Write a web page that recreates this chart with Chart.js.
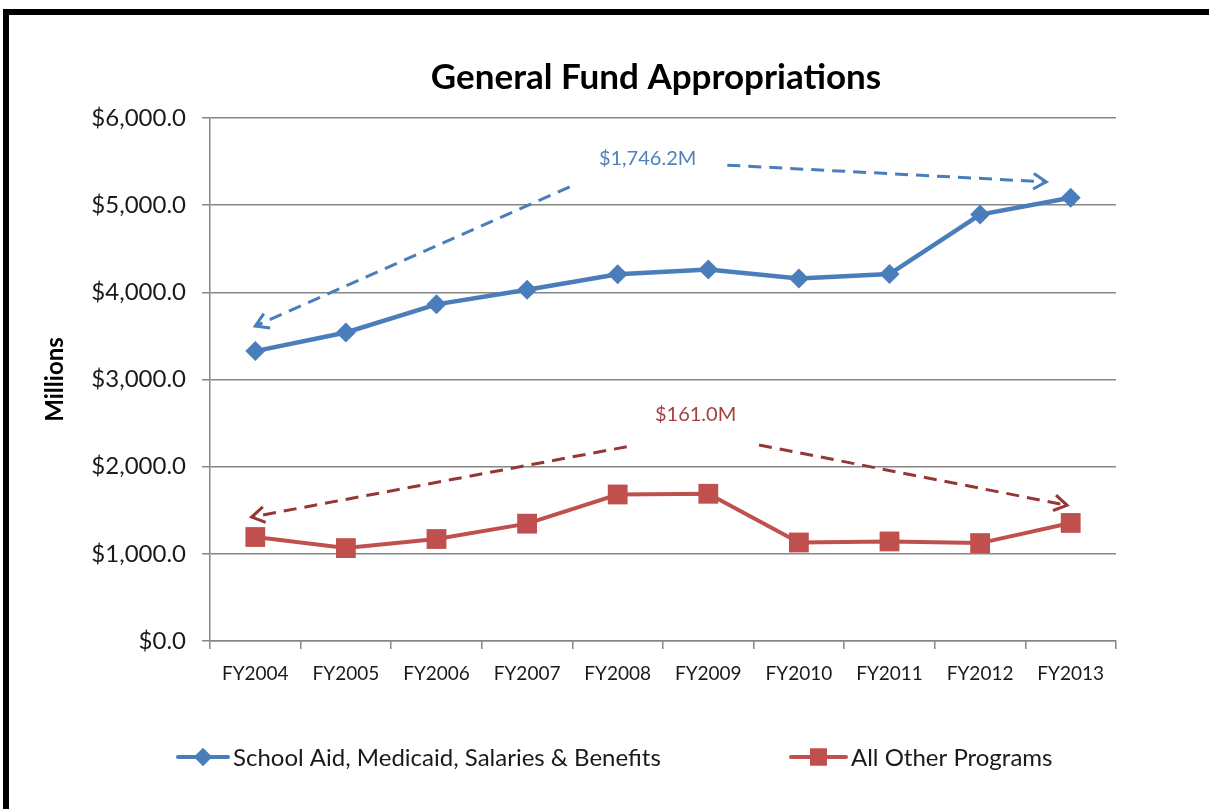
<!DOCTYPE html>
<html>
<head>
<meta charset="utf-8">
<script src="https://cdn.jsdelivr.net/npm/chart.js@4/dist/chart.umd.min.js"></script>
<style>
  html, body { margin: 0; padding: 0; background: #fff; }
  #wrap { position: relative; width: 1209px; height: 809px; }
  #frame { position: absolute; left: 3px; top: 9px; right: 0; bottom: 0;
           border-top: 6px solid #000; border-left: 6px solid #000; pointer-events: none; }
</style>
</head>
<body>
<div id="wrap">
  <canvas id="fundChart" width="1209" height="809"></canvas>
  <div id="frame"></div>
</div>
<script>
// categories and values (millions)
var years = ["FY2004", "FY2005", "FY2006", "FY2007", "FY2008", "FY2009", "FY2010", "FY2011", "FY2012", "FY2013"];
var schoolAid = [3326, 3539, 3862, 4030, 4208, 4261, 4160, 4210, 4892, 5085];
var otherPrograms = [1193, 1066, 1170, 1346, 1681, 1689, 1130, 1142, 1123, 1354];
var seriesNames = ["School Aid, Medicaid, Salaries & Benefits", "All Other Programs"];
var chartTitle = "General Fund Appropriations";

// dashed arrows: [fromIndex, fromValue, toIndex, toValue]
var blueArrows = [[3.47, 5210, 0, 3614], [5.21, 5459, 8.73, 5267]];
var redArrows = [[4.10, 2229, -0.04, 1422], [5.56, 2249, 8.96, 1557]];
var changeLabels = [
  { text: "$1,746.2M", at: [4.33, 5536], color: "#4F81BD" },
  { text: "$161.0M", at: [4.86, 2595], color: "#A5403D" }
];

var BLUE = "#4A7EBB";
var RED = "#C0504D";
var FONT = "Lato, 'Open Sans', sans-serif";

var arrowPlugin = {
  id: "arrows",
  afterDatasetsDraw: function(chart) {
    var ctx = chart.ctx, xs = chart.scales.x, ys = chart.scales.y;
    function draw(list, color) {
      list.forEach(function(a) {
        var x1 = xs.getPixelForValue(a[0]), y1 = ys.getPixelForValue(a[1]);
        var x2 = xs.getPixelForValue(a[2]), y2 = ys.getPixelForValue(a[3]);
        ctx.save();
        ctx.strokeStyle = color;
        ctx.lineWidth = 3;
        ctx.setLineDash([13, 8]);
        ctx.beginPath();
        ctx.moveTo(x1, y1);
        ctx.lineTo(x2, y2);
        ctx.stroke();
        // open arrow head
        var ang = Math.atan2(y2 - y1, x2 - x1), len = 15;
        ctx.setLineDash([]);
        ctx.beginPath();
        ctx.moveTo(x2 - len * Math.cos(ang - 0.55), y2 - len * Math.sin(ang - 0.55));
        ctx.lineTo(x2, y2);
        ctx.lineTo(x2 - len * Math.cos(ang + 0.55), y2 - len * Math.sin(ang + 0.55));
        ctx.stroke();
        ctx.restore();
      });
    }
    draw(blueArrows, "#4A7EBB");
    draw(redArrows, "#953735");
    ctx.save();
    ctx.font = "20px " + FONT;
    ctx.textAlign = "center";
    ctx.textBaseline = "middle";
    changeLabels.forEach(function(l) {
      ctx.fillStyle = l.color;
      ctx.fillText(l.text, xs.getPixelForValue(l.at[0]), ys.getPixelForValue(l.at[1]));
    });
    ctx.restore();
  }
};

// title and legend (line + marker) drawn like the original
var decorPlugin = {
  id: "decor",
  afterDraw: function(chart) {
    var ctx = chart.ctx;
    ctx.save();
    ctx.fillStyle = "#000";
    ctx.font = "bold 35px " + FONT;
    ctx.textAlign = "center";
    ctx.textBaseline = "middle";
    ctx.fillText(chartTitle, 656, 78);

    var items = [{ x: 178, len: 50, style: "rectRot", r: 9 }, { x: 791, len: 55, style: "rect", r: 12 }];
    ctx.font = "24px " + FONT;
    ctx.textAlign = "left";
    chart.data.datasets.forEach(function(ds, i) {
      var it = items[i], y = 757;
      ctx.strokeStyle = ds.borderColor;
      ctx.lineWidth = 4;
      ctx.lineCap = "round";
      ctx.beginPath();
      ctx.moveTo(it.x, y);
      ctx.lineTo(it.x + it.len, y);
      ctx.stroke();
      ctx.fillStyle = ds.borderColor;
      Chart.helpers.drawPoint(ctx, { pointStyle: it.style, radius: it.r, borderWidth: 0 }, it.x + it.len / 2, y);
      ctx.fill();
      ctx.fillStyle = "#1a1a1a";
      ctx.fillText(ds.label, it.x + it.len + 5, y + 1);
    });
    ctx.restore();
  }
};

var ctx = document.getElementById("fundChart").getContext("2d");
var chart = new Chart(ctx, {
  type: "line",
  data: {
    labels: years,
    datasets: [{
      label: seriesNames[0],
      data: schoolAid,
      borderColor: BLUE,
      backgroundColor: BLUE,
      borderWidth: 4.5,
      pointStyle: "rectRot",
      pointRadius: 10,
      pointBorderWidth: 0,
      tension: 0
    }, {
      label: seriesNames[1],
      data: otherPrograms,
      borderColor: RED,
      backgroundColor: RED,
      borderWidth: 4,
      pointStyle: "rect",
      pointRadius: 14,
      pointBorderWidth: 0,
      tension: 0
    }]
  },
  options: {
    responsive: false,
    animation: false,
    layout: { padding: { left: 0, right: 93, top: 118, bottom: 108 } },
    plugins: {
      legend: { display: false },
      tooltip: { enabled: false },
      title: { display: false }
    },
    scales: {
      x: {
        offset: true,
        grid: { offset: true, drawOnChartArea: false, drawTicks: true, tickLength: 8, color: "#868686", lineWidth: 1.5 },
        border: { display: true, color: "#868686", width: 1.5 },
        ticks: { color: "#1a1a1a", font: { family: FONT, size: 19 }, padding: 13, maxRotation: 0, autoSkip: false },
        afterFit: function(s) { s.height = 60; }
      },
      y: {
        min: 0, max: 6000,
        ticks: {
          stepSize: 1000, color: "#1a1a1a", padding: 16,
          font: { family: FONT, size: 24 },
          callback: function(v) { return "$" + v.toLocaleString("en-US", { minimumFractionDigits: 1, maximumFractionDigits: 1 }); }
        },
        grid: { color: "#868686", lineWidth: 1.5, tickLength: 8 },
        border: { display: true, color: "#868686", width: 1.5 },
        title: { display: true, text: "Millions", color: "#000", font: { family: FONT, size: 24, weight: "bold" }, padding: { top: 41, bottom: 0 } },
        afterFit: function(s) { s.width = 210; }
      }
    }
  },
  plugins: [arrowPlugin, decorPlugin]
});
</script>
</body>
</html>
